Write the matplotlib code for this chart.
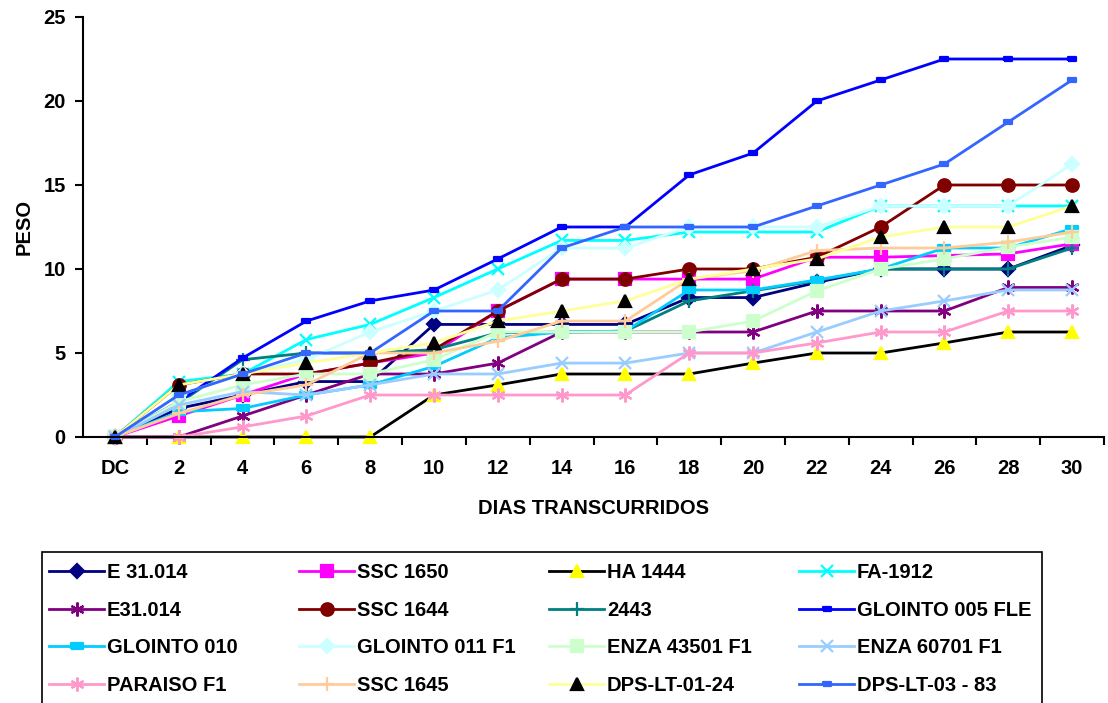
import numpy as np
import matplotlib
matplotlib.use('Agg')
import matplotlib.pyplot as plt
from matplotlib.patches import Rectangle

# ── Data ──
dias = ['DC', '2', '4', '6', '8', '10', '12', '14', '16', '18', '20', '22', '24', '26', '28', '30']

e_31014     = [0, 1.7, 2.5, 3.3, 3.3, 6.7, 6.7, 6.7, 6.7, 8.3, 8.3, 9.2, 10, 10, 10, 11.4]
ssc_1650    = [0, 1.25, 2.5, 3.75, 4.4, 5.0, 7.5, 9.4, 9.4, 9.4, 9.4, 10.7, 10.7, 10.8, 10.9, 11.5]
ha_1444     = [0, 0, 0, 0, 0, 2.5, 3.1, 3.75, 3.75, 3.75, 4.4, 5.0, 5.0, 5.6, 6.25, 6.25]
fa_1912     = [0, 3.3, 3.75, 5.8, 6.7, 8.3, 10.0, 11.7, 11.7, 12.2, 12.2, 12.2, 13.75, 13.75, 13.75, 13.75]
e31_014     = [0, 0, 1.25, 2.5, 3.75, 3.75, 4.4, 6.25, 6.25, 6.25, 6.25, 7.5, 7.5, 7.5, 8.9, 8.9]
ssc_1644    = [0, 3.1, 3.75, 3.75, 4.4, 5.2, 7.5, 9.4, 9.4, 10, 10, 10.7, 12.5, 15, 15, 15]
s_2443      = [0, 2.0, 4.6, 5.0, 5.0, 5.2, 6.2, 6.25, 6.3, 8.1, 8.7, 9.3, 10, 10, 10, 11.25]
gl_005      = [0, 2.1, 4.7, 6.9, 8.1, 8.75, 10.6, 12.5, 12.5, 15.6, 16.9, 20.0, 21.25, 22.5, 22.5, 22.5]
gl_010      = [0, 1.5, 1.7, 2.5, 3.1, 4.2, 5.9, 6.25, 6.3, 8.75, 8.75, 9.35, 10.0, 11.25, 11.25, 12.4]
gl_011      = [0, 2.5, 3.75, 4.6, 6.25, 7.5, 8.75, 11.25, 11.25, 12.5, 12.5, 12.5, 13.75, 13.75, 13.75, 16.25]
enza_43501  = [0, 2.1, 3.1, 3.75, 3.75, 4.6, 6.25, 6.25, 6.25, 6.25, 6.9, 8.7, 10.0, 10.6, 11.3, 11.9]
enza_60701  = [0, 1.9, 2.7, 2.5, 3.1, 3.75, 3.75, 4.4, 4.4, 5.0, 5.0, 6.25, 7.5, 8.1, 8.75, 8.75]
paraiso     = [0, 0, 0.6, 1.25, 2.5, 2.5, 2.5, 2.5, 2.5, 5.0, 5.0, 5.6, 6.25, 6.25, 7.5, 7.5]
ssc_1645    = [0, 1.4, 2.5, 3.1, 5.0, 5.0, 5.7, 6.9, 6.9, 9.4, 9.9, 11.1, 11.25, 11.25, 11.6, 12.2]
dps_0124    = [0, 3.1, 3.75, 4.4, 5.0, 5.6, 6.9, 7.5, 8.1, 9.4, 10.0, 10.6, 11.9, 12.5, 12.5, 13.75]
dps_0383    = [0, 2.5, 3.75, 5.0, 5.0, 7.5, 7.5, 11.25, 12.5, 12.5, 12.5, 13.75, 15.0, 16.25, 18.75, 21.25]

# ── Style ──
plt.rcParams['font.family'] = ['Liberation Sans', 'DejaVu Sans']
plt.rcParams['font.weight'] = 'bold'
FS = 14.5

ast = (6, 2, 0)                                   # Excel-like asterisk
dash = [(-1, -0.55), (1, -0.55), (1, 0.55), (-1, 0.55), (-1, -0.55)]  # small bar marker

# (name, values, line color, marker, marker face, marker size)
series = [
    ('E 31.014',        e_31014,    '#000080', 'D',  '#000080', 7),
    ('SSC 1650',        ssc_1650,   '#FF00FF', 's',  '#FF00FF', 8),
    ('HA 1444',         ha_1444,    '#000000', '^',  '#FFFF00', 9),
    ('FA-1912',         fa_1912,    '#00FFFF', 'x',  '#00FFFF', 9),
    ('E31.014',         e31_014,    '#800080', ast,  '#800080', 10),
    ('SSC 1644',        ssc_1644,   '#800000', 'o',  '#800000', 9),
    ('2443',            s_2443,     '#008080', '+',  '#008080', 10),
    ('GLOINTO 005 FLE', gl_005,     '#0000FF', dash, '#0000FF', 6),
    ('GLOINTO 010',     gl_010,     '#00CCFF', dash, '#00CCFF', 8),
    ('GLOINTO 011 F1',  gl_011,     '#CCFFFF', 'D',  '#CCFFFF', 7),
    ('ENZA 43501 F1',   enza_43501, '#CCFFCC', 's',  '#CCFFCC', 8),
    ('ENZA 60701 F1',   enza_60701, '#99CCFF', 'x',  '#99CCFF', 9),
    ('PARAISO F1',      paraiso,    '#FF99CC', ast,  '#FF99CC', 10),
    ('SSC 1645',        ssc_1645,   '#FFCC99', '+',  '#FFCC99', 10),
    ('DPS-LT-01-24',    dps_0124,   '#FFFF99', '^',  '#000000', 9),
    ('DPS-LT-03 - 83',  dps_0383,   '#3366FF', dash, '#3366FF', 6),
]

fig = plt.figure(figsize=(11.08, 7.03), dpi=100)
ax = fig.add_axes([83/1108, 1 - 437/703, (1104 - 83)/1108, (437 - 17)/703])

x = np.arange(len(dias))
handles = []
for name, vals, lc, mk, mf, ms in series:
    ln, = ax.plot(x, vals, color=lc, linewidth=2, marker=mk, markersize=ms,
                  markerfacecolor=mf, markeredgecolor=mf, markeredgewidth=1.6,
                  label=name, clip_on=False)
    handles.append(ln)

ax.set_xlim(-0.5, len(dias) - 0.5)
ax.set_ylim(0, 25)
ax.set_yticks(range(0, 26, 5))
ax.set_xticks(x)
ax.set_xticklabels(dias)
ax.set_xticks(np.arange(0.5, len(dias), 1), minor=True)
ax.tick_params(axis='x', which='major', length=0, pad=16, labelsize=FS)
ax.tick_params(axis='x', which='minor', length=6, width=1.5, direction='out')
ax.tick_params(axis='y', length=6, width=1.5, direction='out', pad=6.5, labelsize=FS)
for s in ['top', 'right']:
    ax.spines[s].set_visible(False)
for s in ['left', 'bottom']:
    ax.spines[s].set_linewidth(1.5)

ax.set_xlabel('DIAS TRANSCURRIDOS', fontsize=FS, fontweight='bold', labelpad=15)
ax.set_ylabel('PESO', fontsize=FS, fontweight='bold', labelpad=7)

# ── Legend: framed box, four columns filled row by row ──
fig.patches.append(Rectangle((42/1108, -0.05), (1042 - 42)/1108, 1 - 552/703 + 0.05,
                             transform=fig.transFigure, fill=False,
                             edgecolor='black', linewidth=1.2))
col_x = [49, 299, 549, 799]
for c in range(4):
    hs = [handles[r*4 + c] for r in range(4)]
    fig.legend(handles=hs, labels=[h.get_label() for h in hs],
               loc='upper left', bbox_to_anchor=(col_x[c]/1108, 1 - 563/703),
               frameon=False, handlelength=2.75, handletextpad=0.12,
               labelspacing=0.93, borderpad=0, borderaxespad=0,
               prop={'weight': 'bold', 'size': FS})

fig.savefig('out.png', dpi=100, facecolor='white')
plt.close()
